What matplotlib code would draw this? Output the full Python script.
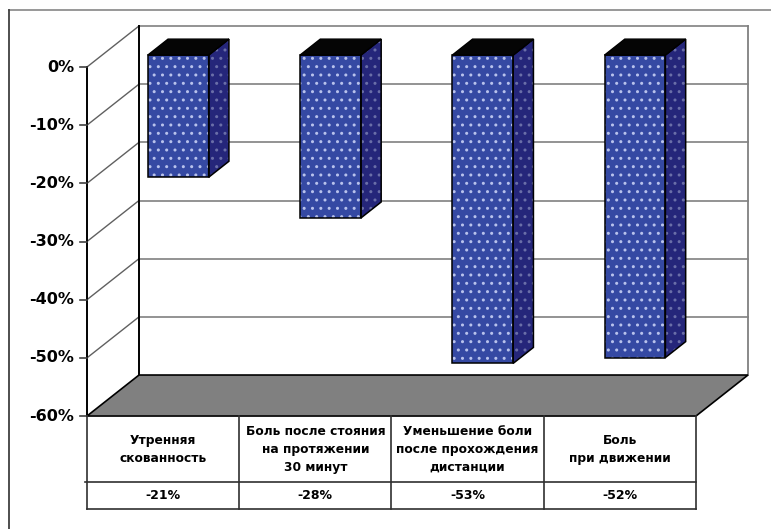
import matplotlib
matplotlib.use("Agg")
import matplotlib.pyplot as plt
from matplotlib.patches import Polygon
from matplotlib.lines import Line2D

# ---- data ----
categories = ["Утренняя\nскованность",
              "Боль после стояния\nна протяжении\n30 минут",
              "Уменьшение боли\nпосле прохождения\nдистанции",
              "Боль\nпри движении"]
values = [-21, -28, -53, -52]
value_labels = ["-21%", "-28%", "-53%", "-52%"]
yticks = [0, -10, -20, -30, -40, -50, -60]
ytick_labels = ["0%", "-10%", "-20%", "-30%", "-40%", "-50%", "-60%"]

# ---- style / layout ----
FRONT = "#3549a3"
SIDE = "#25267a"
TOP = "#050505"
GRID = "#808080"
FLOOR = "#808080"
DX, DY = 0.3415, 7.05        # oblique depth offset (category units, percent units)
D1, D2 = 0.29, 0.68          # bar front/back depth
BL, BR = 0.30, 0.70          # bar extent within category
VMIN = -60

fig = plt.figure(figsize=(7.71, 5.29), dpi=100)
ax = fig.add_axes([0, 0, 1, 1])
ax.set_xlim(-0.5714, 4.4926)
ax.set_ylim(-79.42, 11.518)
ax.axis("off")


def P(c, v, d=0.0):
    return (c + d * DX, v + d * DY)


# outer frame (top and left)
fig.add_artist(Line2D([9 / 771, 1.0], [1 - 10 / 529, 1 - 10 / 529],
                      transform=fig.transFigure, color="#909090", lw=1.3))
fig.add_artist(Line2D([9 / 771, 9 / 771], [1 - 10 / 529, 0.0],
                      transform=fig.transFigure, color="#404040", lw=1.3))

n = len(categories)

# back wall grid lines and diagonals
for t in yticks[:-1]:
    x0, y0 = P(0, t, 1)
    x1, y1 = P(n, t, 1)
    ax.plot([x0, x1], [y0, y1], color=GRID, lw=1.2, zorder=1)
    a, b = P(0, t, 0)
    ax.plot([a, x0], [b, y0], color="#606060", lw=1.0, zorder=1)
# back wall right edge
x0, y0 = P(n, 0, 1)
x1, y1 = P(n, VMIN, 1)
ax.plot([x0, x1], [y0, y1], color=GRID, lw=1.3, zorder=1)
# back wall left edge
x0, y0 = P(0, 0, 1)
x1, y1 = P(0, VMIN, 1)
ax.plot([x0, x1], [y0, y1], color="black", lw=1.4, zorder=1)

# floor
floor = [P(0, VMIN, 0), P(0, VMIN, 1), P(n, VMIN, 1), P(n, VMIN, 0)]
ax.add_patch(Polygon(floor, closed=True, facecolor=FLOOR, edgecolor="black",
                     lw=1.2, zorder=2))

# front axis
x0, y0 = P(0, 0, 0)
x1, y1 = P(0, VMIN, 0)
ax.plot([x0, x1], [y0, y1], color="black", lw=1.4, zorder=3)
for t, lab in zip(yticks, ytick_labels):
    ax.plot([-0.046, 0], [t, t], color="#404040", lw=1.2, zorder=3)
    ax.text(-0.085, t, lab, ha="right", va="center", fontsize=11.5,
            fontweight="bold", color="black")

# bars
for i, v in enumerate(values):
    cl, cr = i + BL, i + BR
    front = [P(cl, 0, D1), P(cr, 0, D1), P(cr, v, D1), P(cl, v, D1)]
    side = [P(cr, 0, D1), P(cr, 0, D2), P(cr, v, D2), P(cr, v, D1)]
    top = [P(cl, 0, D1), P(cr, 0, D1), P(cr, 0, D2), P(cl, 0, D2)]
    ax.add_patch(Polygon(side, closed=True, facecolor=SIDE, edgecolor="#6a6ea8",
                         hatch="..", lw=0, zorder=4))
    ax.add_patch(Polygon(side, closed=True, fill=False, edgecolor="black",
                         lw=1.1, zorder=5))
    ax.add_patch(Polygon(front, closed=True, facecolor=FRONT, edgecolor="#b8c2ec",
                         hatch="..", lw=0, zorder=4))
    ax.add_patch(Polygon(front, closed=True, fill=False, edgecolor="black",
                         lw=1.1, zorder=5))
    ax.add_patch(Polygon(top, closed=True, facecolor=TOP, edgecolor="black",
                         lw=1.0, zorder=5))

# data table below
ROW1 = -71.35
ROW2 = -75.98
ax.plot([-0.013, n], [ROW1, ROW1], color="#303030", lw=1.2, zorder=3)
ax.plot([0, n], [ROW2, ROW2], color="#303030", lw=1.2, zorder=3)
for k in range(n + 1):
    ax.plot([k, k], [VMIN, ROW2], color="#303030", lw=1.2, zorder=3)
for i, (cat, vl) in enumerate(zip(categories, value_labels)):
    ax.text(i + 0.5, (VMIN + ROW1) / 2, cat, ha="center", va="center",
            fontsize=8.8, fontweight="bold", linespacing=1.5)
    ax.text(i + 0.5, (ROW1 + ROW2) / 2, vl, ha="center", va="center",
            fontsize=9, fontweight="bold")

fig.savefig("out.png", dpi=100)
